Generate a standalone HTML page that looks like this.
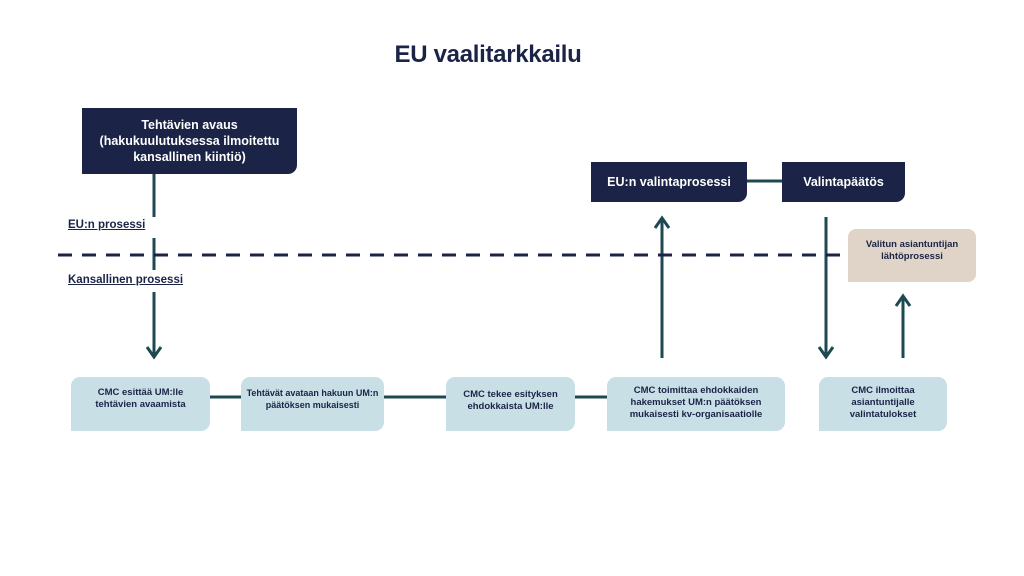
<!DOCTYPE html>
<html><head><meta charset="utf-8"><style>
*{margin:0;padding:0;box-sizing:border-box}
body{width:1024px;height:576px;background:#fff;position:relative;overflow:hidden;font-family:"Liberation Sans",sans-serif}
.t{position:absolute;left:0;width:976px;top:41px;text-align:center;font-size:24px;font-weight:bold;color:#1b2447;letter-spacing:-0.3px}
.b{position:absolute;display:flex;align-items:center;justify-content:center;text-align:center;font-weight:bold}
.d{background:#1b2447;color:#fff;font-size:12.5px;line-height:16px;border-radius:0 0 9px 0}
.l{background:#c9dfe6;color:#1b2447;font-size:9.5px;line-height:12px;border-radius:9px 9px 9px 0;align-items:flex-start;padding-top:10px}
.lab{position:absolute;font-size:11.5px;font-weight:bold;color:#1b2447;text-decoration:underline}
</style></head><body>
<div class="t">EU vaalitarkkailu</div>
<svg width="1024" height="576" style="position:absolute;left:0;top:0">
<g stroke="#1d4a52" stroke-width="3" fill="none">
<line x1="154" y1="174" x2="154" y2="217"/>
<line x1="154" y1="238" x2="154" y2="270"/>
<line x1="154" y1="292" x2="154" y2="357"/>
<polyline points="147,347 154,357 161,347"/>
<line x1="210" y1="397" x2="241" y2="397"/>
<line x1="384" y1="397" x2="446" y2="397"/>
<line x1="575" y1="397" x2="607" y2="397"/>
<line x1="747" y1="181" x2="782" y2="181"/>
<line x1="662" y1="358" x2="662" y2="218"/>
<polyline points="655,228 662,218 669,228"/>
<line x1="826" y1="217" x2="826" y2="357"/>
<polyline points="819,347 826,357 833,347"/>
<line x1="903" y1="358" x2="903" y2="296"/>
<polyline points="896,306 903,296 910,306"/>
</g>
<line x1="58" y1="255" x2="845" y2="255" stroke="#1b2447" stroke-width="3" stroke-dasharray="14,10"/>
</svg>
<div class="b d" style="left:82px;top:108px;width:215px;height:66px">Tehtävien avaus<br>(hakukuulutuksessa ilmoitettu<br>kansallinen kiintiö)</div>
<div class="b d" style="left:591px;top:162px;width:156px;height:40px">EU:n valintaprosessi</div>
<div class="b d" style="left:782px;top:162px;width:123px;height:40px">Valintapäätös</div>
<div class="b" style="left:848px;top:229px;width:128px;height:53px;background:#e0d4c8;color:#1b2447;font-size:9.5px;line-height:12px;border-radius:8px 8px 8px 0;align-items:flex-start;padding-top:10px">Valitun asiantuntijan<br>lähtöprosessi</div>
<div class="lab" style="left:68px;top:219px">EU:n prosessi</div>
<div class="lab" style="left:68px;top:274px">Kansallinen prosessi</div>
<div class="b l" style="left:71px;top:377px;width:139px;height:54px">CMC esittää UM:lle<br>tehtävien avaamista</div>
<div class="b l" style="left:241px;top:377px;width:143px;height:54px;font-size:9px">Tehtävät avataan hakuun UM:n<br>päätöksen mukaisesti</div>
<div class="b l" style="left:446px;top:377px;width:129px;height:54px;padding-top:12px">CMC tekee esityksen<br>ehdokkaista UM:lle</div>
<div class="b l" style="left:607px;top:377px;width:178px;height:54px;padding-top:8px">CMC toimittaa ehdokkaiden<br>hakemukset UM:n päätöksen<br>mukaisesti kv-organisaatiolle</div>
<div class="b l" style="left:819px;top:377px;width:128px;height:54px;padding-top:8px">CMC ilmoittaa<br>asiantuntijalle<br>valintatulokset</div>
</body></html>
